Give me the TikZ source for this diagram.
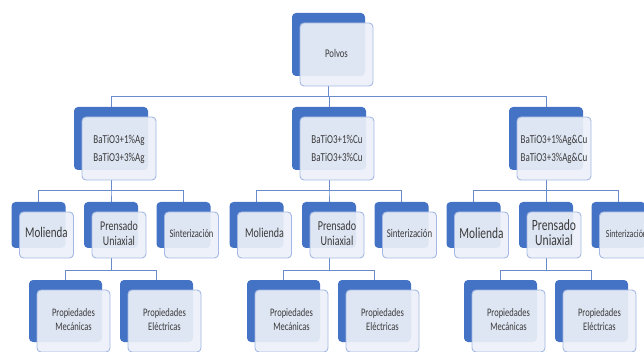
\documentclass[tikz,border=0pt]{standalone}
\usepackage{fontspec}
\usepackage{graphicx}
\setmainfont{Carlito}
\usetikzlibrary{positioning, backgrounds}
\definecolor{azul}{HTML}{4472C4}
\definecolor{celeste}{HTML}{EDF0F8}
\definecolor{borde}{HTML}{A3B8E2}
\definecolor{linea}{HTML}{6A8BCB}
\definecolor{texto}{HTML}{3A3A3A}
\tikzstyle{fondo} = [draw=none, fill=azul, rounded corners=4pt, inner sep=0pt]
\tikzstyle{frente} = [draw=borde, line width=0.9pt, fill=celeste, fill opacity=0.92, text opacity=1, rounded corners=4pt, inner sep=0pt, text=texto]
\tikzstyle{enlace} = [draw=linea, line width=0.9pt]
% texto estirado en vertical
\newcommand{\etiq}[3]{\scalebox{1}[1.35]{\fontsize{#1}{#2}\selectfont\begin{tabular}{@{}c@{}}#3\end{tabular}}}
% caja azul de fondo y caja clara delante
\newcommand{\caja}[5]{%
  \node[fondo, minimum width=#3pt, minimum height=#4pt] (#1) at (#2) {};
  \node[frente, minimum width=#3pt, minimum height=#4pt] (#1-f) at ([shift={(8,10)}]#1.center) {#5};
}
\begin{document}
\begin{tikzpicture}[x=1pt, y=-1pt]
  \useasboundingbox (0,0) rectangle (644,352);
  \clip (0,0) rectangle (644,352);
  \coordinate (bus1) at (0,96);
  \coordinate (bus2) at (0,190);
  \coordinate (bus3) at (0,270);
  \caja{polvos}{328.5,44.5}{73}{63}{\etiq{8.7}{10}{Polvos}}
  \foreach \g/\x/\e/\fm/\fp/\fs in {ag/111/Ag/11/9.9/8.5, cu/329/Cu/10/10.1/8.8, agcu/546/Ag\&Cu/11.4/11.6/8}{
    \caja{\g}{\x,138.5}{74}{63}{\etiq{9}{13.3}{BaTiO3+1\%\e\\BaTiO3+3\%\e}}
    \caja{\g-mol}{{\x-72.5},225}{54}{46}{\etiq{\fm}{\fm}{Molienda}}
    \caja{\g-pre}{\x,225}{54}{46}{\etiq{\fp}{11.1}{Prensado\\Uniaxial}}
    \caja{\g-sin}{{\x+72.5},225}{54}{46}{\etiq{\fs}{\fs}{Sinterización}}
    \caja{\g-mec}{{\x-45.5},311}{73}{62}{\etiq{8.5}{10.4}{Propiedades\\Mecánicas}}
    \caja{\g-ele}{{\x+45.5},311}{73}{62}{\etiq{8.5}{10.4}{Propiedades\\Eléctricas}}
    \begin{pgfonlayer}{background}
      \draw[enlace] (polvos.center |- polvos-f.south) -- (polvos.center |- bus1) -| (\g.north);
      \foreach \h in {mol,pre,sin}
        \draw[enlace] (\g.center |- \g-f.south) -- (\g.center |- bus2) -| (\g-\h.north);
      \foreach \h in {mec,ele}
        \draw[enlace] (\g-pre.center |- \g-pre-f.south) -- (\g-pre.center |- bus3) -| (\g-\h.north);
    \end{pgfonlayer}
  }
\end{tikzpicture}
\end{document}
